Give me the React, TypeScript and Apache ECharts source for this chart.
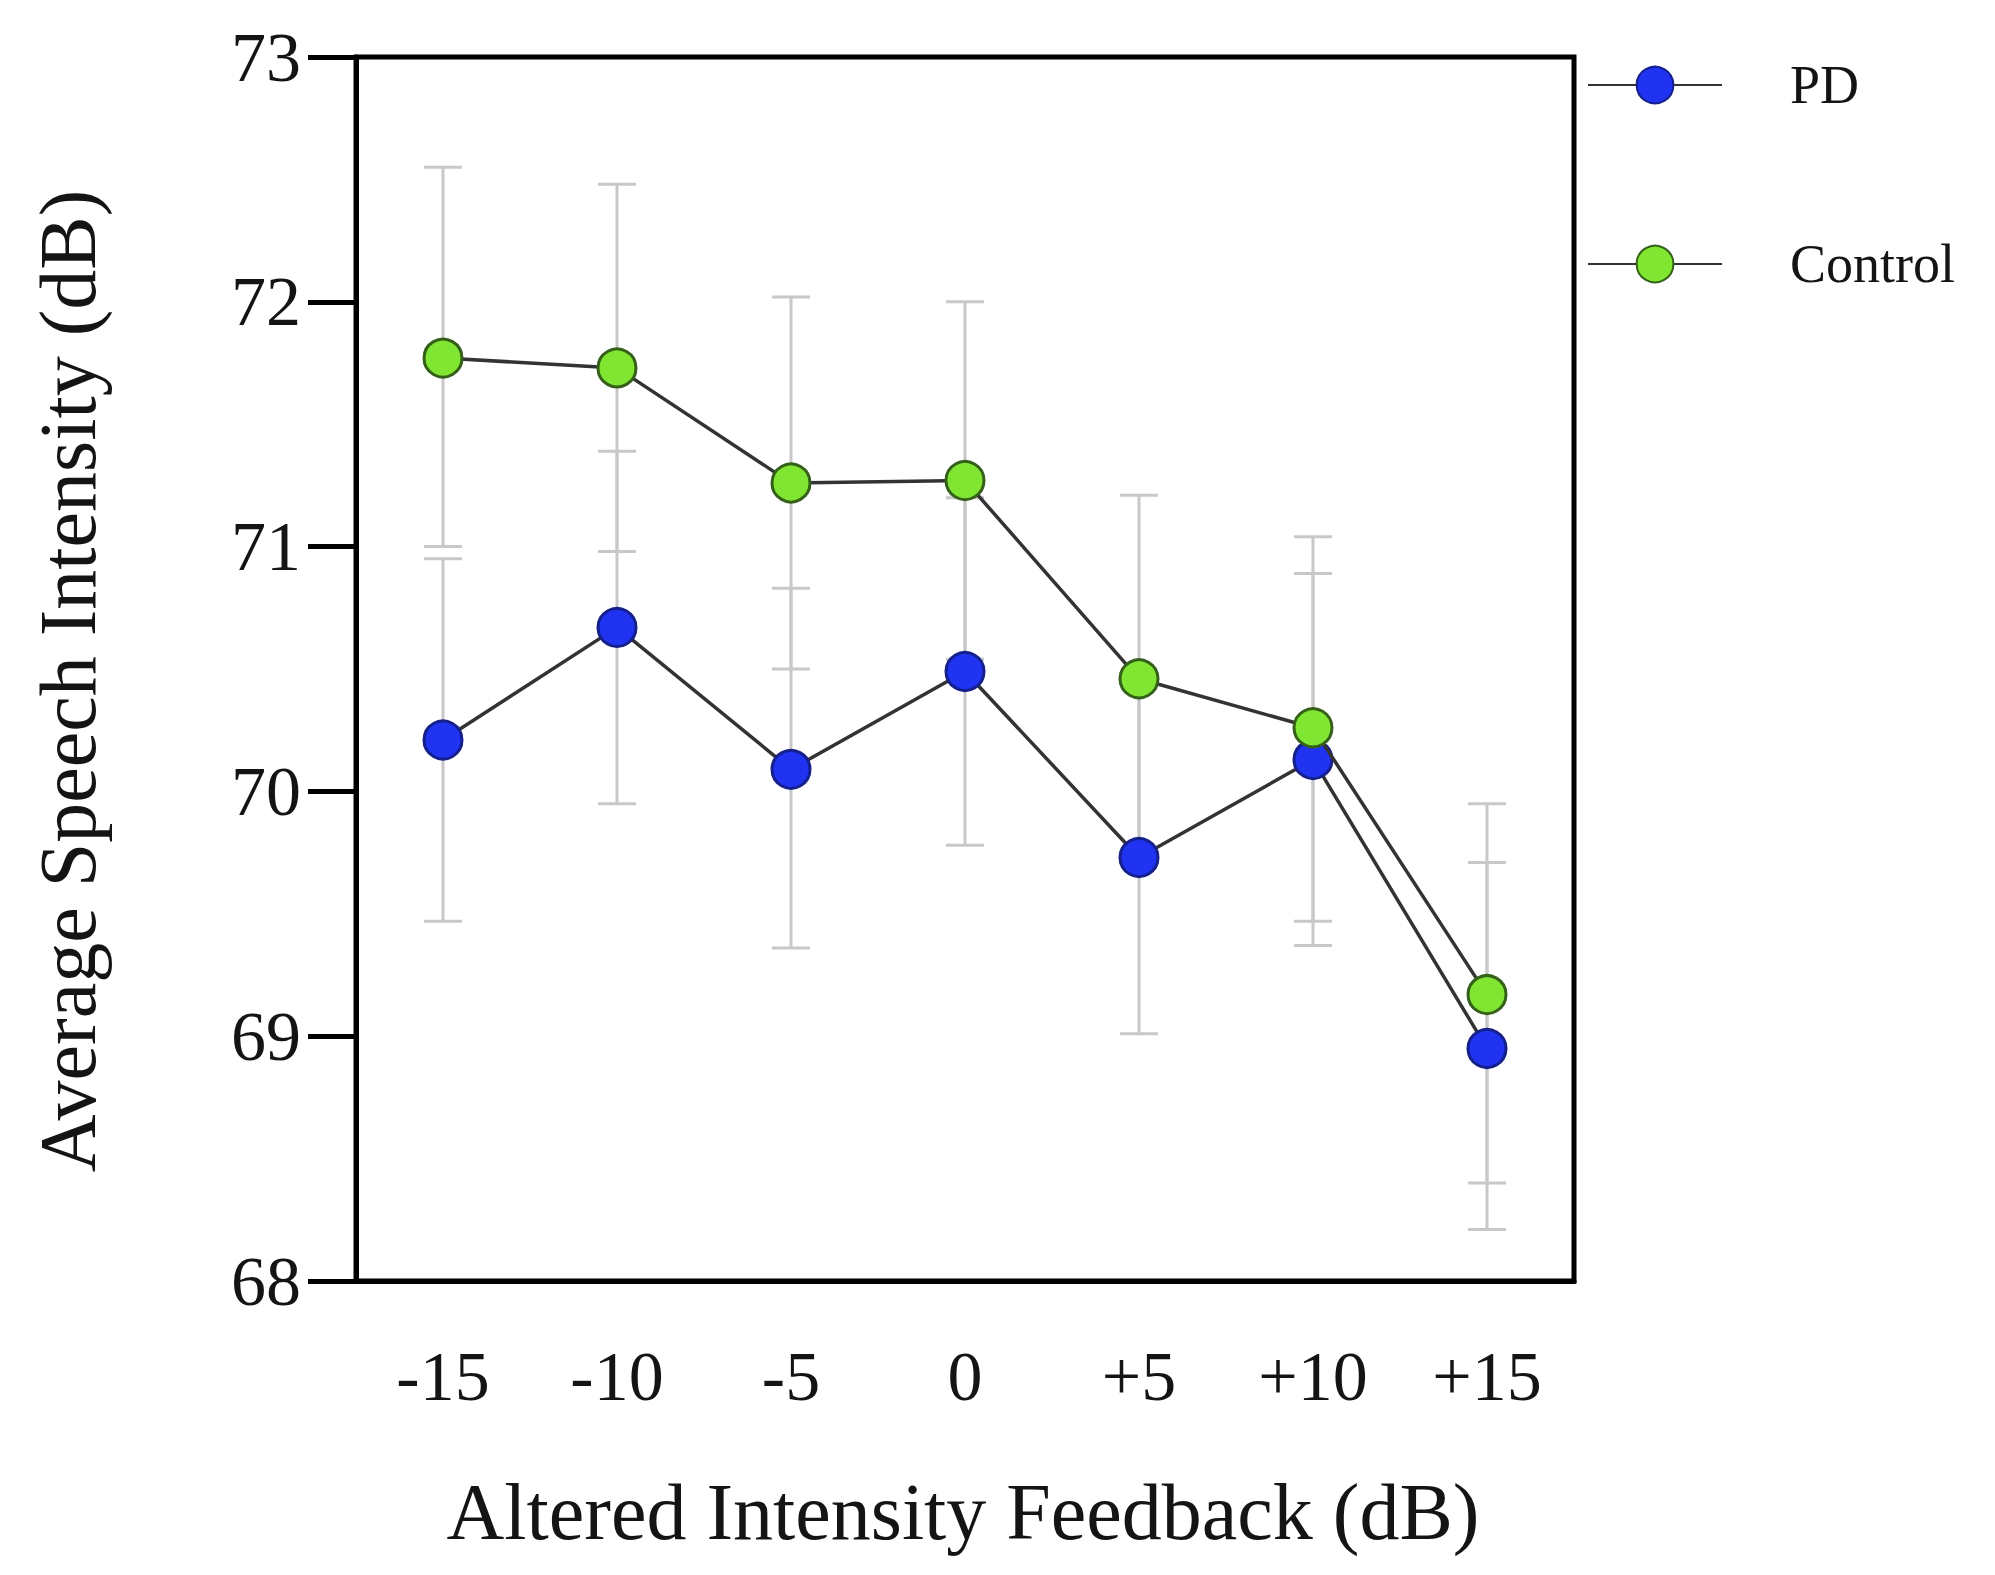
import React, { useEffect, useRef } from "react";
import * as echarts from "echarts";

const categories = ["-15", "-10", "-5", "0", "+5", "+10", "+15"];
const pdMean = [70.21, 70.67, 70.09, 70.49, 69.73, 70.13, 68.95];
const controlMean = [71.77, 71.73, 71.26, 71.27, 70.46, 70.26, 69.17];
const pdLower = [69.47, 69.95, 69.36, 69.78, 69.01, 69.37, 68.21];
const pdUpper = [70.95, 71.39, 70.83, 71.2, 70.45, 70.89, 69.71];
const controlLower = [71.0, 70.98, 70.5, 70.54, 69.71, 69.47, 68.4];
const controlUpper = [72.55, 72.48, 72.02, 72.0, 71.21, 71.04, 69.95];
const yTicks = { min: 68, max: 73, interval: 1 };

const FONT = "'Liberation Serif', 'Times New Roman', serif";
const TXT = "#141414";

function errorRender(params: any, api: any) {
  const idx = api.value(0);
  const lo = api.coord([idx, api.value(1)]);
  const hi = api.coord([idx, api.value(2)]);
  const half = 19;
  const style = { stroke: "#c8c8c8", lineWidth: 3 };
  return {
    type: "group",
    children: [
      { type: "line", shape: { x1: lo[0], y1: lo[1], x2: hi[0], y2: hi[1] }, style },
      { type: "line", shape: { x1: hi[0] - half, y1: hi[1], x2: hi[0] + half, y2: hi[1] }, style },
      { type: "line", shape: { x1: lo[0] - half, y1: lo[1], x2: lo[0] + half, y2: lo[1] }, style },
    ],
  };
}

export default function App() {
  const ref = useRef<HTMLDivElement>(null);
  useEffect(() => {
    if (!ref.current) return;
    const chart = echarts.init(ref.current, null, { renderer: "svg" });
    const pdErr = categories.map((_, i) => [i, pdLower[i], pdUpper[i]]);
    const ctErr = categories.map((_, i) => [i, controlLower[i], controlUpper[i]]);
    chart.setOption({
      animation: false,
      backgroundColor: "#ffffff",
      grid: {
        left: 356,
        right: 421,
        top: 57,
        bottom: 294,
        show: true,
        borderColor: "#000",
        borderWidth: 5,
        backgroundColor: "transparent",
      },
      legend: {
        data: ["PD", "Control"],
        orient: "vertical",
        left: 1582,
        top: 53,
        itemWidth: 134,
        itemHeight: 46,
        itemGap: 125,
        textStyle: { fontFamily: FONT, fontSize: 54, color: TXT, padding: [0, 0, 0, 63] },
        selectedMode: false,
      },
      xAxis: {
        type: "category",
        data: categories,
        boundaryGap: true,
        axisLine: { lineStyle: { color: "#000", width: 5 } },
        axisTick: { alignWithLabel: true, length: 42, lineStyle: { color: "#000", width: 5 } },
        axisLabel: { fontFamily: FONT, fontSize: 70, color: TXT, margin: 60 },
        splitLine: { show: false },
      },
      yAxis: {
        type: "value",
        min: yTicks.min,
        max: yTicks.max,
        interval: yTicks.interval,
        axisLine: { show: true, lineStyle: { color: "#000", width: 5 } },
        axisTick: { show: true, length: 48, lineStyle: { color: "#000", width: 5 } },
        axisLabel: { fontFamily: FONT, fontSize: 70, color: TXT, margin: 55 },
        splitLine: { show: false },
      },
      graphic: [
        {
          type: "text",
          x: 68,
          y: 681,
          rotation: Math.PI / 2,
          style: {
            text: "Average Speech Intensity (dB)",
            fontFamily: FONT,
            fontSize: 80,
            fill: TXT,
            align: "center",
            verticalAlign: "middle",
          },
        },
        {
          type: "text",
          x: 963,
          y: 1512,
          style: {
            text: "Altered Intensity Feedback (dB)",
            fontFamily: FONT,
            fontSize: 80,
            fill: TXT,
            align: "center",
            verticalAlign: "middle",
          },
        },
      ],
      series: [
        {
          type: "custom",
          name: "pdErr",
          renderItem: errorRender,
          data: pdErr,
          encode: { x: 0, y: [1, 2] },
          z: 1,
          silent: true,
        },
        {
          type: "custom",
          name: "ctErr",
          renderItem: errorRender,
          data: ctErr,
          encode: { x: 0, y: [1, 2] },
          z: 1,
          silent: true,
        },
        {
          type: "line",
          name: "PD",
          data: pdMean,
          symbol: "circle",
          symbolSize: 38,
          lineStyle: { color: "#333333", width: 3.5 },
          itemStyle: { color: "#1f33f0", borderColor: "#15208c", borderWidth: 3 },
          z: 3,
        },
        {
          type: "line",
          name: "Control",
          data: controlMean,
          symbol: "circle",
          symbolSize: 38,
          lineStyle: { color: "#333333", width: 3.5 },
          itemStyle: { color: "#80e632", borderColor: "#35601a", borderWidth: 3 },
          z: 4,
        },
      ],
    });
    return () => chart.dispose();
  }, []);
  return (
    <div
      ref={ref}
      style={{ position: "absolute", left: 0, top: 0, width: 1995, height: 1575 }}
    />
  );
}
